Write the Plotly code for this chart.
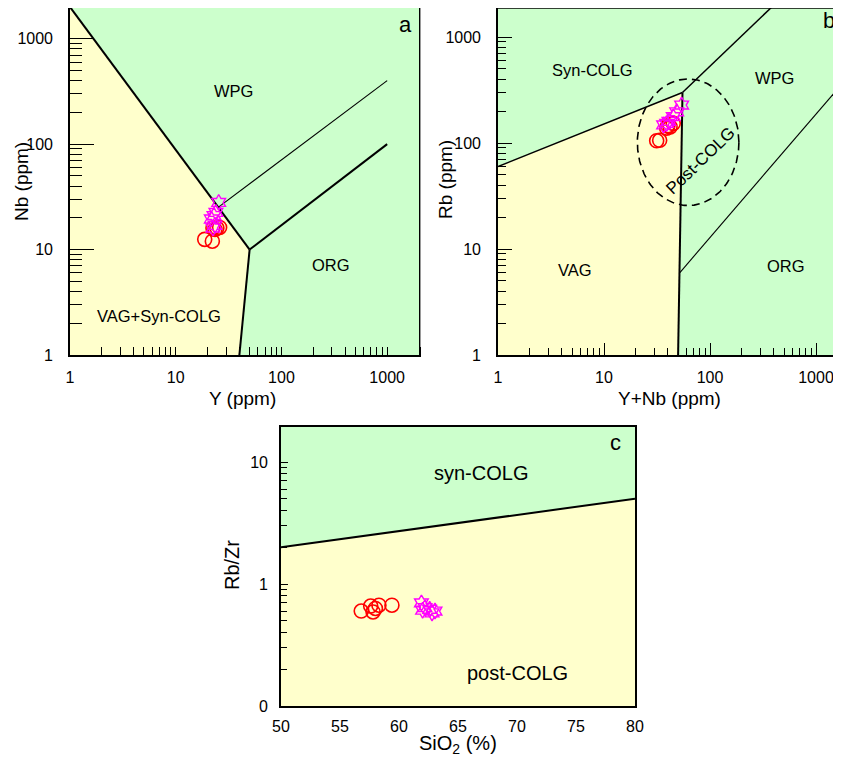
import numpy as np
import plotly.graph_objects as go

W, H = 841, 758
OFF = 8                      # default page body margin
FW, FH = W - OFF, H - OFF    # figure size so the page fits the window
FONT = "Liberation Sans, Arial, sans-serif"
GREEN = "#CCFFCC"
YELLOW = "#FFFFCC"
RED = "#FF0000"
MAGENTA = "#FF00FF"

# ---------------- data ----------------
# Panel a: Y vs Nb
a_circ_y = [18.8, 22.2, 22.5, 24.5, 26.0, 23.5]
a_circ_nb = [12.5, 12.0, 16.0, 16.0, 16.2, 15.5]
a_star_y = [25.5, 24.0, 21.7, 22.5, 23.5, 23.0]
a_star_nb = [28.0, 22.5, 19.5, 16.0, 17.0, 21.0]

# Panel b: Y+Nb vs Rb
b_circ_ynb = [31.4, 33.5, 39.0, 42.0, 45.0, 40.0]
b_circ_rb = [105, 106, 138, 142, 153, 145]
b_star_ynb = [54.0, 48.5, 45.0, 39.0, 36.5, 41.0]
b_star_rb = [228, 197, 177, 153, 148, 160]

# Panel c: SiO2 vs Rb/Zr
c_circ_si = [56.8, 57.6, 57.8, 58.0, 58.3, 59.4]
c_circ_rz = [0.60, 0.66, 0.59, 0.63, 0.67, 0.67]
c_star_si = [61.9, 62.2, 62.6, 63.05, 62.0, 62.8]
c_star_rz = [0.70, 0.64, 0.62, 0.60, 0.61, 0.58]

# Field boundaries
a_vag_field_x = [1, 1, 50, 40, 1]
a_vag_field_y = [1, 2000, 10, 1, 1]
a_b1_x, a_b1_y = [1, 50], [2000, 10]
a_b2_x, a_b2_y = [40, 50], [1, 10]
a_b3_x, a_b3_y = [50, 1000], [10, 100]
a_b4_x, a_b4_y = [25, 1000], [25, 400]

b_vag_field_x = [1, 1, 55, 52, 50, 1]
b_vag_field_y = [1, 60, 300, 6, 1, 1]
b_b1_x, b_b1_y = [1, 55], [60, 300]
b_b2_x, b_b2_y = [55, 400], [300, 2000]
b_b3_x, b_b3_y = [55, 52, 50], [300, 6, 1]
b_b4_x, b_b4_y = [52, 2000], [6, 420]
post_colg_center = (62.2, 101.6)   # Y+Nb, Rb
post_colg_radii = (0.479, 0.597)   # semi-axes in log decades

c_post_field_x = [50, 50, 80, 80, 50]
c_post_field_y = [0.1, 2.0, 5.0, 0.1, 0.1]
c_b_x, c_b_y = [50, 80], [2.0, 5.0]

log_major = [1, 10, 100, 1000]
log_major_text = ["1", "10", "100", "1000"]
log_minor = [m * d for d in [1, 10, 100, 1000] for m in range(2, 10)]
c_y_major = [0.1, 1, 10]
c_y_text = ["0", "1", "10"]
c_y_minor = [m * d for d in [0.1, 1] for m in range(2, 10)]
c_x_ticks = [50, 55, 60, 65, 70, 75, 80]

# ---------------- figure ----------------
fig = go.Figure()


def poly(x, y, xa, ya, color):
    fig.add_trace(go.Scatter(x=x, y=y, xaxis=xa, yaxis=ya, mode="lines", fill="toself",
                             fillcolor=color, line=dict(width=0, color=color),
                             hoverinfo="skip", showlegend=False))


def line(x, y, xa, ya, w=2, dash=None):
    fig.add_trace(go.Scatter(x=x, y=y, xaxis=xa, yaxis=ya, mode="lines",
                             line=dict(width=w, color="black", dash=dash),
                             hoverinfo="skip", showlegend=False))


def pts(x, y, xa, ya, kind):
    if kind == "circ":
        m = dict(symbol="circle-open", size=14, color=RED, line=dict(width=1.6, color=RED))
    else:
        m = dict(symbol="hexagram-open", size=12, color=MAGENTA, line=dict(width=1.4, color=MAGENTA))
    fig.add_trace(go.Scatter(x=x, y=y, xaxis=xa, yaxis=ya, mode="markers", marker=m,
                             showlegend=False, cliponaxis=True))


# panel a
poly(a_vag_field_x, a_vag_field_y, "x", "y", YELLOW)
line(a_b1_x, a_b1_y, "x", "y", 2)
line(a_b2_x, a_b2_y, "x", "y", 2)
line(a_b3_x, a_b3_y, "x", "y", 2)
line(a_b4_x, a_b4_y, "x", "y", 1.1)
pts(a_circ_y, a_circ_nb, "x", "y", "circ")
pts(a_star_y, a_star_nb, "x", "y", "star")

# panel b
poly(b_vag_field_x, b_vag_field_y, "x2", "y2", YELLOW)
line(b_b1_x, b_b1_y, "x2", "y2", 1.5)
line(b_b2_x, b_b2_y, "x2", "y2", 1.5)
line(b_b3_x, b_b3_y, "x2", "y2", 2)
line(b_b4_x, b_b4_y, "x2", "y2", 1.1)
t = np.linspace(0, 2 * np.pi, 200)
ex = 10 ** (np.log10(post_colg_center[0]) + post_colg_radii[0] * np.cos(t))
ey = 10 ** (np.log10(post_colg_center[1]) + post_colg_radii[1] * np.sin(t))
line(ex, ey, "x2", "y2", 1.6, dash="8px,5px")
pts(b_circ_ynb, b_circ_rb, "x2", "y2", "circ")
pts(b_star_ynb, b_star_rb, "x2", "y2", "star")

# panel c
poly(c_post_field_x, c_post_field_y, "x3", "y3", YELLOW)
line(c_b_x, c_b_y, "x3", "y3", 2)
pts(c_circ_si, c_circ_rz, "x3", "y3", "circ")
pts(c_star_si, c_star_rz, "x3", "y3", "star")


def fx(p):
    return min(max((p - OFF) / FW, 0.0), 1.0)


def fy(p):
    return min(max(1 - (p - OFF) / FH, 0.0), 1.0)


tickfont = dict(family=FONT, size=16, color="black")


def axis(domain, rng, anchor, typ="log", ticklen=8, minorlen=8, tickvals=None, ticktext=None,
         minorvals=None, mirror=True, standoff=6, ticks="inside"):
    d = dict(domain=domain, range=rng, type=typ, anchor=anchor, showgrid=False, zeroline=False,
             showline=True, linecolor="black", linewidth=1.6, mirror=mirror,
             ticks=ticks, ticklen=ticklen, tickwidth=1, tickcolor="black",
             tickvals=tickvals, ticktext=ticktext, tickfont=tickfont,
             ticklabelstandoff=standoff, fixedrange=True, automargin=False)
    if minorvals is not None:
        d["minor"] = dict(tickvals=minorvals, ticks="inside", ticklen=minorlen,
                          tickwidth=1, tickcolor="black", showgrid=False)
    return d


ya_top = fy(7)
yb_top = fy(4)
fig.update_layout(
    width=FW, height=FH, margin=dict(l=0, r=0, t=0, b=0, autoexpand=False),
    paper_bgcolor="white", plot_bgcolor=GREEN, showlegend=False,
    font=dict(family=FONT, color="black"),
    xaxis=axis([fx(70), fx(419)], [0, np.log10(2000)], "y", ticklen=8, minorlen=8,
               tickvals=log_major, ticktext=log_major_text, minorvals=log_minor, standoff=7),
    yaxis=axis([fy(355), ya_top], [0, np.log10(2000) - 1 / 105], "x", ticklen=24, minorlen=12,
               tickvals=log_major, ticktext=log_major_text, minorvals=log_minor, standoff=12),
    xaxis2=axis([fx(498), 1.0], [0, 343 / 106], "y2", ticklen=12, minorlen=7,
                tickvals=log_major, ticktext=log_major_text, minorvals=log_minor, standoff=7),
    yaxis2=axis([fy(355), yb_top], [0, 347 / 106], "x2", ticklen=14, minorlen=8,
                tickvals=log_major, ticktext=log_major_text, minorvals=log_minor, mirror=False,
                standoff=12),
    xaxis3=axis([fx(281), fx(635)], [50, 80], "y3", typ="linear", ticks="",
                tickvals=c_x_ticks, ticktext=[str(v) for v in c_x_ticks], standoff=5),
    yaxis3=axis([fy(706), fy(427)], [-1, 1.287], "x3", ticklen=7, minorlen=6,
                tickvals=c_y_major, ticktext=c_y_text, minorvals=c_y_minor, standoff=8),
)

# top frame line for panel b (its right edge is cut off by the image)
fig.add_shape(type="line", xref="paper", yref="paper", x0=fx(498), x1=1.0, y0=yb_top, y1=yb_top,
              line=dict(color="black", width=1.6))
# faint page-edge line between the two upper panels
fig.add_shape(type="line", xref="paper", yref="paper", x0=fx(420.5), x1=fx(420.5),
              y0=fy(347), y1=1.0, line=dict(color="#9a9a9a", width=1))

annots = []


def ann(text, px, py, size, angle=0):
    annots.append(dict(text=text, x=fx(px), y=fy(py), xref="paper", yref="paper",
                       showarrow=False, textangle=angle, xanchor="center", yanchor="middle",
                       font=dict(family=FONT, size=size, color="black")))


# panel letters
ann("a", 405, 25, 22)
ann("b", 829, 20, 22)
ann("c", 615, 443, 22)
# region labels
ann("WPG", 233, 91, 16.5)
ann("ORG", 331, 265, 16.5)
ann("VAG+Syn-COLG", 159, 316, 16.5)
ann("Syn-COLG", 592, 70, 16.5)
ann("WPG", 774, 78, 16.5)
ann("VAG", 575, 270, 16.5)
ann("ORG", 786, 266, 16.5)
ann("Post-COLG", 701, 161, 17, angle=-44)
ann("syn-COLG", 481, 473, 20)
ann("post-COLG", 517, 673, 20)
# axis titles
ann("Y (ppm)", 242, 398, 19)
ann("Nb (ppm)", 21, 182, 19, angle=-90)
ann("Y+Nb (ppm)", 669, 398, 19)
ann("Rb (ppm)", 445, 180, 19, angle=-90)
ann("SiO<sub>2</sub> (%)", 458, 744, 20)
ann("Rb/Zr", 232, 565, 20, angle=-90)

fig.update_layout(annotations=annots)

fig.write_html("out.html")
